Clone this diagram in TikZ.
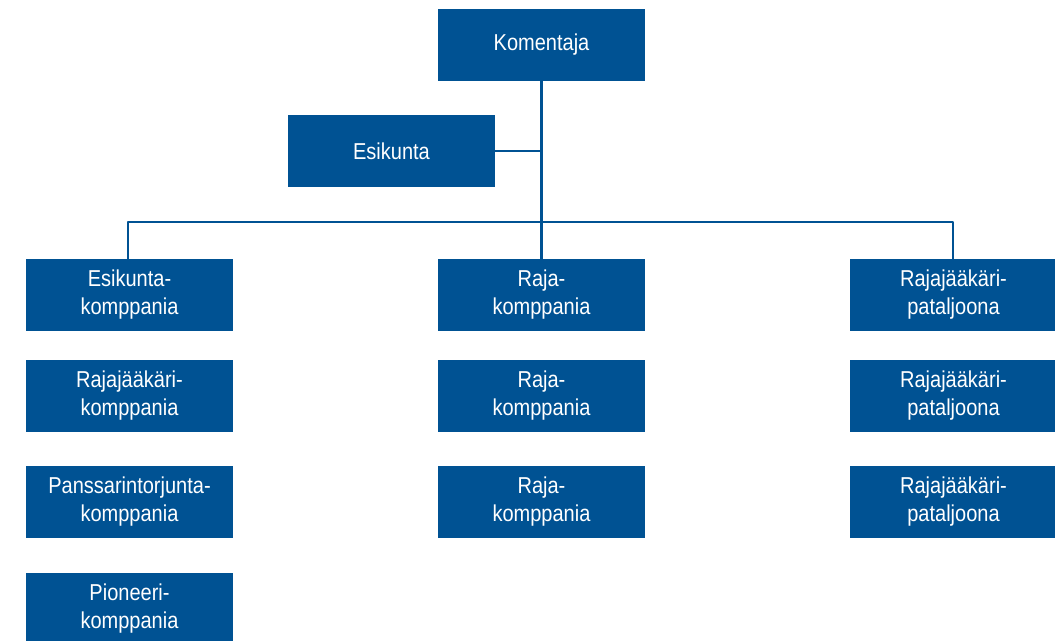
\documentclass[tikz,border=0pt]{standalone}
\usepackage{fontspec}
\setmainfont[FakeStretch=0.87]{Liberation Sans}
\definecolor{rvsininen}{RGB}{0,82,147}
\tikzset{
  yksikko/.style={fill=rvsininen, text=white, minimum width=207pt, minimum height=72pt,
    inner sep=0pt, align=center, font=\fontsize{23}{28}\selectfont},
  yhteys/.style={draw=rvsininen, line width=2.5pt}
}
\begin{document}
\begin{tikzpicture}[x=1pt, y=-1pt, line join=round]
			\useasboundingbox (0,0) rectangle (1055,640);
			\node[yksikko] (komentaja) at (541.5,45) {\raisebox{-2pt}{Komentaja}};
			\node[yksikko] (esikunta) at (391.5,151) {\raisebox{-2pt}{Esikunta}};
			\coordinate (haara) at (541.5,222);
			
			% Yksiköt riveittäin
			\foreach \nimi/\px/\py/\eka/\toka in {
				ekk/129.5/295/Esikunta/komppania,
				rjk/129.5/396/Rajajääkäri/komppania,
				ptk/129.5/502/Panssarintorjunta/komppania,
				pik/129.5/609/Pioneeri/komppania,
				rk1/541.5/295/Raja/komppania,
				rk2/541.5/396/Raja/komppania,
				rk3/541.5/502/Raja/komppania,
				rjp1/953.5/295/Rajajääkäri/pataljoona,
				rjp2/953.5/396/Rajajääkäri/pataljoona,
				rjp3/953.5/502/Rajajääkäri/pataljoona
			} \node[yksikko] (\nimi) at (\px,\py) {\eka-\\\toka};
			
			\draw[yhteys] (komentaja) -- (rk1);
			\draw[yhteys] (esikunta) -- (esikunta -| komentaja);
			\draw[yhteys] ([xshift=-1.5pt]ekk.north) |- (haara) -| ([xshift=-0.5pt]rjp1.north);
			\end{tikzpicture}
\end{document}
